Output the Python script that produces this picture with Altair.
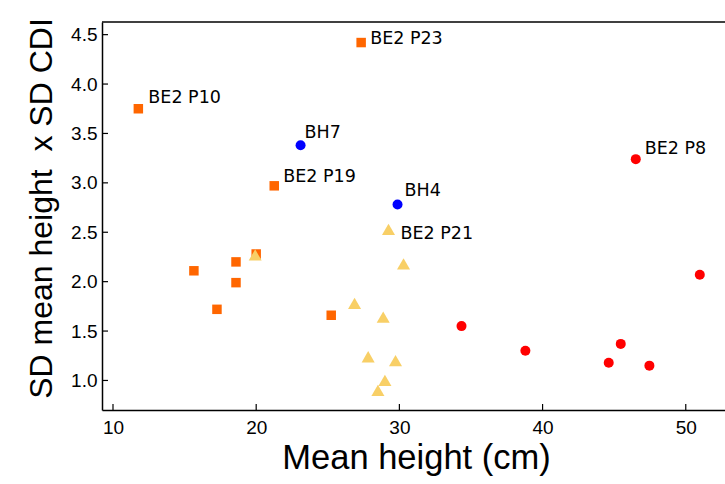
import altair as alt
import pandas as pd

# ---- data ----
sq_x = [11.77, 27.33, 21.26, 15.65, 18.59, 18.59, 17.26, 20.00, 25.24]
sq_y = [3.75, 4.42, 2.97, 2.11, 2.20, 1.99, 1.72, 2.28, 1.66]
sq_lab = ["BE2 P10", "BE2 P23", "BE2 P19", "", "", "", "", "", ""]

tri_x = [29.24, 19.93, 26.87, 30.29, 28.87, 27.82, 29.73, 28.99, 28.50]
tri_y = [2.53, 2.27, 1.78, 2.18, 1.64, 1.24, 1.20, 1.00, 0.90]
tri_lab = ["BE2 P21", "", "", "", "", "", "", "", ""]

blue_x = [23.10, 29.87]
blue_y = [3.38, 2.78]
blue_lab = ["BH7", "BH4"]

red_x = [46.51, 34.34, 38.80, 45.46, 44.62, 47.46, 50.98]
red_y = [3.24, 1.55, 1.30, 1.37, 1.18, 1.15, 2.07]
red_lab = ["BE2 P8", "", "", "", "", "", ""]

x_ticks = [10, 20, 30, 40, 50]
y_ticks = [1.0, 1.5, 2.0, 2.5, 3.0, 3.5, 4.0, 4.5]

W, H = 623, 388
xdom = [9.232, 52.74]
ydom = [0.701, 4.628]

xs = alt.Scale(domain=xdom, nice=False, zero=False)
ys = alt.Scale(domain=ydom, nice=False, zero=False)

xaxis = alt.Axis(values=x_ticks, format="d", ticks=False, grid=False,
                 domainColor="black", domainWidth=1.5,
                 labelFont="Liberation Sans", labelFontSize=19, labelColor="black",
                 labelPadding=8,
                 title="Mean height (cm)", titleFont="Liberation Sans", titleFontSize=34.5,
                 titleFontWeight="normal", titleColor="black",
                 titleX=314, titleY=58, titleBaseline="alphabetic", titleAlign="center")
yaxis = alt.Axis(values=y_ticks, format=".1f", ticks=False, grid=False,
                 domainColor="black", domainWidth=1.5,
                 labelFont="Liberation Sans", labelFontSize=19, labelColor="black",
                 labelPadding=5,
                 title="SD mean height\u00a0 x SD CDI", titleFont="Liberation Sans",
                 titleFontSize=32, titleFontWeight="normal", titleColor="black",
                 titleAngle=270, titleX=-51, titleY=186, titleBaseline="alphabetic",
                 titleAlign="center")

series = [
    (sq_x, sq_y, sq_lab, "square", 90, "#FF6600"),
    (tri_x, tri_y, tri_lab, "triangle-up", 170, "#F8CF66"),
    (blue_x, blue_y, blue_lab, "circle", 100, "#0000FF"),
    (red_x, red_y, red_lab, "circle", 100, "#FF0000"),
]

layers = []
frames = []
for i, (sx, sy, sl, shp, sz, col) in enumerate(series):
    d = pd.DataFrame({"x": sx, "y": sy, "label": sl})
    frames.append(d)
    if i == 0:
        enc = dict(x=alt.X("x:Q", scale=xs, axis=xaxis),
                   y=alt.Y("y:Q", scale=ys, axis=yaxis))
    else:
        enc = dict(x=alt.X("x:Q", scale=xs), y=alt.Y("y:Q", scale=ys))
    layers.append(alt.Chart(d).mark_point(filled=True, opacity=1, strokeWidth=0,
                                          shape=shp, size=sz, color=col).encode(**enc))
df = pd.concat(frames, ignore_index=True)

offsets = {"BE2 P23": (9, 1), "BE2 P10": (10, -6), "BH7": (4, -7), "BE2 P19": (9, -4),
           "BH4": (7, -9), "BE2 P8": (9, -5), "BE2 P21": (12, 10)}
for lab, (dx, dy) in offsets.items():
    layers.append(
        alt.Chart(df[df["label"] == lab]).mark_text(
            font="DejaVu Sans", fontSize=17.5, color="black", align="left",
            baseline="alphabetic", dx=dx, dy=dy
        ).encode(x=alt.X("x:Q", scale=xs), y=alt.Y("y:Q", scale=ys), text="label:N")
    )

xt = alt.Chart(pd.DataFrame({"x": x_ticks})).mark_rule(color="black", strokeWidth=1.2).encode(
    x=alt.X("x:Q", scale=xs), y=alt.value(H), y2=alt.value(H - 6))
yt = alt.Chart(pd.DataFrame({"y": y_ticks})).mark_rule(color="black", strokeWidth=1.2).encode(
    y=alt.Y("y:Q", scale=ys), x=alt.value(0), x2=alt.value(6))
top = alt.Chart(pd.DataFrame({"v": [0]})).mark_rule(color="black", strokeWidth=1.5).encode(
    x=alt.value(0), x2=alt.value(W), y=alt.value(0))

chart = alt.layer(*layers, xt, yt, top).properties(
    width=W, height=H,
    autosize=alt.AutoSizeParams(type="none"),
    padding={"left": 102, "top": 22, "right": 0, "bottom": 74},
    background="white",
).configure_view(strokeWidth=0)

chart.save("out.html", embed_options={"renderer": "svg", "actions": False})
